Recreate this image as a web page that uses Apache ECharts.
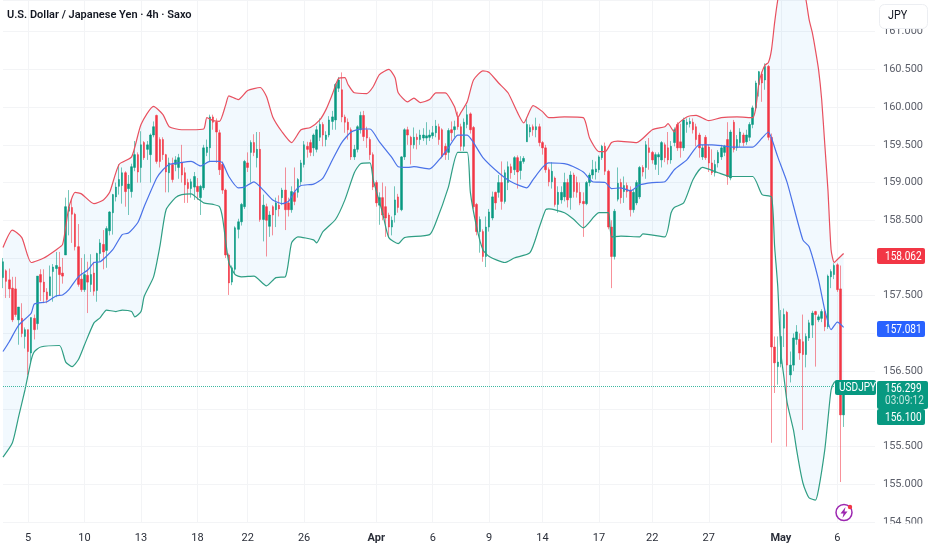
<!DOCTYPE html>
<html><head><meta charset="utf-8">
<style>html,body{margin:0;padding:0;background:#fff}#c{width:932px;height:550px}</style>
<script src="https://cdn.jsdelivr.net/npm/echarts@6/dist/echarts.min.js"></script>
</head><body><div id="c"></div>
<script>
const title = 'U.S. Dollar / Japanese Yen · 4h · Saxo';
const barCount = 279;
const dateIndex = [8,26,44,62,78,96,119,137,155,172,190,207,225,248,266];
const dateText = ['5','10','13','18','22','26','Apr','6','9','14','17','22','27','May','6'];
const currentPrice = 156.299;
// open, close, low, high
const candles = [
[157.74,157.95,157.6,158.0],[157.83,157.69,157.47,157.85],[157.71,157.59,157.47,157.86],[157.6,157.18,157.15,157.75],[157.59,157.25,157.22,157.75],
[157.18,157.35,156.85,157.35],[157.2,157.0,156.95,157.4],[156.96,157.05,156.8,157.08],[157.05,156.76,156.45,157.05],[156.74,157.21,156.62,157.21],
[157.2,157.05,156.92,157.25],[157.13,157.76,157.05,157.76],[157.78,157.68,157.43,157.85],[157.68,157.55,157.4,157.85],[157.55,157.45,157.4,157.6],
[157.5,157.75,157.5,157.9],[157.82,157.88,157.42,157.92],[157.86,157.9,157.48,158.08],[157.88,157.78,157.5,158.08],[157.8,157.76,157.66,158.0],
[158.04,158.68,158.04,158.8],[158.62,158.68,158.3,158.9],[158.67,158.58,158.2,158.78],[158.58,158.15,158.1,158.6],[158.15,157.65,157.62,158.45],
[157.72,157.58,157.55,158.0],[157.58,157.78,157.55,158.05],[157.77,157.68,157.27,157.95],[157.65,157.78,157.55,158.05],[157.8,157.56,157.5,157.95],
[157.57,158.06,157.42,158.07],[158.06,158.2,157.95,158.25],[158.18,158.08,157.85,158.37],[158.1,158.39,157.87,158.42],[158.36,158.61,158.3,158.62],
[158.6,158.84,158.31,158.85],[158.81,158.94,158.75,159.0],[158.95,159.04,158.84,159.24],[158.96,159.13,158.72,159.2],[159.13,158.88,158.68,159.15],
[158.92,158.98,158.57,159.1],[158.88,159.21,158.8,159.25],[159.2,159.37,159.15,159.55],[159.37,159.14,159.0,159.4],[159.2,159.5,159.0,159.68],
[159.53,159.33,159.3,159.55],[159.44,159.5,159.3,159.55],[159.37,159.63,159.0,159.65],[159.63,159.74,159.6,159.81],[159.89,159.28,159.25,159.9],
[159.57,159.28,159.2,159.6],[159.57,159.37,159.3,159.6],[159.37,159.14,158.87,159.38],[159.13,159.26,158.87,159.33],[159.24,159.04,159.0,159.33],
[159.24,159.3,159.15,159.35],[159.2,159.33,159.05,159.38],[159.26,159.1,159.0,159.5],[159.13,158.97,158.73,159.2],[159.0,158.92,158.73,159.05],
[158.92,159.01,158.8,159.05],[158.94,159.08,158.77,159.14],[158.95,158.88,158.77,159.06],[158.8,158.95,158.57,158.97],[158.93,159.46,158.9,159.5],
[159.4,159.47,159.35,159.57],[159.46,159.87,159.28,159.9],[159.87,159.8,159.7,159.9],[159.8,159.67,159.26,159.85],[159.66,159.17,159.1,159.7],
[159.24,158.9,158.85,159.28],[158.9,158.04,158.0,158.92],[158.04,157.67,157.51,158.06],[157.68,157.87,157.64,157.9],[157.85,158.4,157.8,158.42],
[158.38,158.48,158.26,158.52],[158.48,158.71,158.43,158.73],[158.68,159.28,158.65,159.3],[159.26,159.2,159.14,159.4],[159.4,159.53,159.0,159.56],
[159.53,159.4,159.35,159.64],[159.33,159.44,159.2,159.67],[159.44,158.51,158.48,159.67],[158.51,158.7,158.22,158.84],[158.68,158.5,158.02,158.72],
[158.42,158.57,158.28,158.62],[158.68,158.57,158.3,158.7],[158.64,158.73,158.41,158.8],[158.7,158.65,158.55,158.83],[158.8,158.9,158.7,158.93],
[158.9,158.64,158.37,159.2],[158.73,158.64,158.55,158.8],[158.64,158.88,158.6,158.95],[158.87,158.75,158.7,159.2],[158.87,159.04,158.8,159.06],
[159.01,159.26,158.97,159.3],[159.24,159.5,159.2,159.55],[159.48,159.44,159.33,159.54],[159.53,159.4,159.35,159.57],[159.46,159.63,159.35,159.65],
[159.44,159.7,159.4,159.75],[159.6,159.77,159.55,159.85],[159.77,159.63,159.48,159.8],[159.57,159.63,159.48,159.68],[159.63,159.83,159.6,159.88],
[159.81,159.87,159.7,159.95],[159.83,160.3,159.7,160.32],[160.25,160.36,160.2,160.4],[160.23,159.87,159.8,160.46],[159.87,159.8,159.66,159.9],
[159.8,159.7,159.57,159.85],[159.7,159.34,159.3,159.73],[159.34,159.44,159.3,159.5],[159.44,159.74,159.4,159.76],[159.7,159.89,159.65,159.94],
[159.89,159.61,159.55,159.95],[159.7,159.59,159.46,159.74],[159.57,159.37,159.3,159.6],[159.37,158.94,158.9,159.4],[159.0,158.73,158.68,159.03],
[158.7,158.8,158.44,158.87],[158.8,158.57,158.5,159.0],[158.68,158.53,158.28,158.95],[158.57,158.41,158.28,158.6],[158.41,158.5,158.3,158.55],
[158.57,158.77,158.47,158.95],[158.81,158.67,158.6,158.85],[158.64,159.34,158.62,159.35],[159.34,159.7,159.3,159.72],[159.7,159.63,159.5,159.74],
[159.6,159.5,159.24,159.62],[159.5,159.6,159.45,159.73],[159.6,159.57,159.44,159.65],[159.57,159.63,159.5,159.7],[159.59,159.63,159.55,159.72],
[159.59,159.62,159.5,159.8],[159.6,159.63,159.55,159.7],[159.62,159.66,159.58,159.75],[159.66,159.75,159.6,159.83],[159.74,159.57,159.5,159.78],
[159.7,159.34,159.32,159.72],[159.48,159.37,159.3,159.52],[159.4,159.69,159.3,159.72],[159.7,159.66,159.55,159.81],[159.7,159.74,159.6,159.82],
[159.86,159.74,159.7,159.94],[159.74,159.48,159.42,159.78],[159.48,159.8,159.42,159.85],[159.77,159.9,159.72,160.03],[159.91,159.7,159.65,159.93],
[159.73,158.68,158.65,159.75],[158.71,158.35,158.3,158.73],[158.35,158.51,158.07,158.55],[158.35,158.02,157.95,158.38],[158.02,158.41,157.88,158.55],
[158.41,158.61,158.35,158.65],[158.53,158.81,158.5,158.88],[158.87,158.73,158.64,158.88],[158.87,159.0,158.8,159.1],[159.0,158.75,158.64,159.28],
[158.75,159.13,158.72,159.17],[159.0,159.21,158.9,159.28],[159.21,159.13,159.05,159.25],[159.17,159.33,159.1,159.35],[159.33,159.14,158.92,159.36],
[159.16,159.28,159.04,159.35],[159.28,159.32,159.25,159.35],
[159.54,159.77,159.54,159.86],[159.67,159.73,159.6,159.77],[159.74,159.7,159.62,159.77],[159.7,159.74,159.6,159.86],[159.74,159.53,159.48,159.78],
[159.53,159.46,159.37,159.55],[159.46,159.17,159.13,159.5],[159.17,159.01,158.95,159.2],[159.01,159.15,158.92,159.27],[159.06,158.71,158.68,159.08],
[158.71,158.87,158.6,158.95],[158.77,158.87,158.72,158.95],[158.81,159.0,158.75,159.13],[159.0,158.77,158.67,159.05],[158.8,159.1,158.64,159.15],
[159.1,158.88,158.8,159.13],[159.0,158.87,158.8,159.08],[158.87,158.73,158.7,159.0],[158.75,158.72,158.28,158.87],[158.72,159.0,158.7,159.02],
[159.0,159.1,158.95,159.13],[159.1,159.17,159.05,159.3],[159.14,159.18,159.04,159.28],[159.17,159.34,159.13,159.36],[159.33,159.48,159.3,159.5],
[159.48,159.15,159.1,159.53],[159.15,158.41,158.38,159.17],[158.41,158.02,157.6,158.5],[158.02,158.62,157.98,158.65],[158.78,158.99,158.75,159.2],
[159.0,158.8,158.72,159.05],
[158.88,158.96,158.73,159.08],[158.96,158.88,158.8,159.0],[158.9,158.64,158.55,158.95],[158.64,158.87,158.6,158.9],[158.73,159.0,158.7,159.03],
[158.81,159.2,158.78,159.22],[159.2,159.14,159.08,159.23],[159.2,159.5,159.05,159.55],[159.46,159.4,159.17,159.59],[159.4,159.3,159.25,159.42],
[159.24,159.37,159.17,159.4],[159.34,159.37,159.1,159.4],[159.3,159.53,159.2,159.55],[159.5,159.33,159.27,159.53],
[159.46,159.3,159.24,159.67],[159.3,159.48,159.25,159.55],[159.53,159.7,159.48,159.73],[159.77,159.46,159.42,159.8],[159.54,159.46,159.33,159.78],
[159.46,159.83,159.42,159.86],[159.77,159.8,159.66,159.85],[159.78,159.81,159.73,159.86],[159.8,159.7,159.65,159.85],[159.74,159.57,159.48,159.78],
[159.63,159.46,159.33,159.66],[159.34,159.46,159.3,159.5],[159.6,159.33,159.3,159.63],[159.47,159.26,159.14,159.5],[159.26,159.13,159.1,159.44],
[159.13,159.24,159.08,159.3],[159.26,159.4,159.2,159.43],[159.34,159.46,159.3,159.5],[159.4,159.48,159.35,159.5],[159.57,159.08,158.97,159.8],
[159.06,159.67,159.03,159.7],[159.8,159.44,159.4,159.83],[159.46,159.57,159.42,159.63],[159.53,159.67,159.47,159.72],[159.63,159.53,159.48,159.66],
[159.54,159.63,159.5,159.7],[159.6,159.77,159.55,159.8],[159.77,159.99,159.72,160.02],[159.99,160.32,159.95,160.35],[160.3,160.47,160.14,160.48],
[160.44,160.32,160.07,160.47],[160.36,160.54,160.23,160.58],[160.54,159.6,159.56,160.56],[159.6,156.82,155.55,159.65],
[156.82,156.61,156.21,156.96],[156.56,156.62,156.32,156.96],[156.6,156.96,156.55,157.31],[157.07,157.25,156.82,157.33],[157.28,156.58,155.5,157.3],
[156.45,156.58,156.35,156.76],[156.58,156.94,156.5,157.0],[156.92,157.02,156.85,157.11],[156.92,156.74,156.65,157.0],[156.89,156.72,155.72,157.25],
[156.72,156.96,156.55,157.0],[156.94,157.14,156.9,157.18],[157.11,157.27,156.94,157.3],[157.29,157.25,156.56,157.3],[157.18,157.22,157.15,157.25],
[157.2,157.29,157.15,157.32],[157.29,157.09,157.03,157.32],[157.09,157.76,157.06,157.78],[157.75,157.82,157.6,157.85],[157.78,157.9,157.72,157.93],
[157.91,157.58,157.55,157.93],[157.59,155.92,155.03,157.9],[155.92,156.299,155.76,156.35]
];
// band lines: [bar index, price]
const upperBand = [[0,158.14],[3,158.37],[6,158.27],[9,157.94],[13,158.0],[17,158.11],[19,158.18],[21,158.67],[23,158.87],[25,158.85],[29,158.72],[32,158.77],[34,158.87],[37,159.24],[41,159.34],[44,159.77],[48,160.01],[51,159.9],[53,159.74],[57,159.7],[60,159.7],[64,159.71],[65,159.86],[67,159.82],[69,159.81],[71,160.03],[72,160.15],[75,160.1],[78,160.22],[82,160.26],[84,160.14],[86,159.87],[89,159.67],[92,159.53],[95,159.7],[98,159.73],[101,159.83],[103,159.97],[105,160.17],[107,160.38],[109,160.39],[110,160.3],[112,160.19],[116,160.18],[118,160.27],[120,160.43],[123,160.5],[125,160.39],[126,160.19],[129,160.07],[131,160.12],[133,160.06],[136,160.1],[138,160.19],[141,160.19],[144,160.0],[145,159.86],[146,159.93],[148,160.07],[150,160.36],[153,160.48],[155,160.46],[158,160.32],[161,160.19],[164,159.93],[166,159.79],[169,160.02],[172,159.94],[174,159.86],[179,159.87],[185,159.86],[187,159.59],[190,159.41],[192,159.41],[194,159.53],[196,159.55],[202,159.53],[207,159.7],[211,159.74],[212,159.78],[214,159.67],[215,159.77],[218,159.87],[221,159.89],[225,159.82],[229,159.86],[234,159.87],[239,159.86],[240,159.99],[241,160.32],[242,160.47],[243,160.56],[244,160.59],[245,160.76],[246,161.12],[247,161.42],[248,161.62],[249,161.75],[250,161.85],[251,161.89],[252,161.89],[253,161.82],[254,161.69],[255,161.58],[256,161.42],[257,161.16],[258,160.99],[259,160.76],[260,160.5],[261,160.1],[262,159.5],[263,158.9],[264,158.11],[265,157.94],[266,157.98],[267,158.02],[268,158.06]];
const midBand = [[0,156.76],[2,156.89],[5,157.11],[9,157.27],[10,157.39],[14,157.42],[17,157.5],[19,157.51],[21,157.58],[24,157.75],[27,157.84],[29,157.94],[31,157.95],[35,158.11],[38,158.31],[40,158.33],[43,158.47],[45,158.68],[49,159.06],[51,159.17],[53,159.24],[56,159.26],[60,159.28],[63,159.22],[66,159.28],[69,159.28],[70,159.26],[72,159.08],[75,158.93],[77,158.94],[80,159.01],[83,158.9],[86,158.77],[89,158.72],[91,158.75],[93,158.88],[95,158.96],[99,158.98],[102,159.06],[105,159.3],[108,159.53],[111,159.67],[114,159.71],[117,159.71],[120,159.54],[124,159.33],[126,159.21],[129,159.2],[131,159.21],[136,159.18],[139,159.3],[142,159.46],[145,159.63],[148,159.63],[150,159.53],[153,159.33],[158,159.13],[162,159.01],[167,158.93],[169,159.04],[172,159.2],[174,159.26],[180,159.24],[185,159.14],[188,159.01],[192,159.0],[194,158.92],[197,158.93],[200,158.89],[203,158.97],[207,159.0],[211,159.01],[214,159.17],[218,159.3],[222,159.5],[226,159.5],[229,159.49],[233,159.47],[239,159.47],[242,159.59],[244,159.67],[245,159.59],[247,159.34],[250,159.0],[255,158.24],[257,158.15],[260,157.71],[262,157.31],[264,157.05],[266,157.15],[268,157.08]];
const lowerBand = [[0,155.36],[3,155.55],[5,155.9],[7,156.25],[9,156.65],[10,156.76],[12,156.82],[18,156.84],[20,156.62],[22,156.56],[24,156.65],[26,156.85],[29,157.14],[31,157.21],[33,157.31],[36,157.29],[38,157.31],[41,157.29],[42,157.22],[44,157.29],[45,157.49],[48,157.75],[50,158.15],[52,158.64],[55,158.8],[57,158.84],[60,158.85],[62,158.79],[64,158.73],[67,158.71],[69,158.68],[70,158.53],[72,157.94],[74,157.78],[76,157.75],[80,157.76],[84,157.63],[87,157.74],[90,157.75],[92,158.2],[94,158.28],[99,158.24],[100,158.2],[102,158.35],[106,158.51],[109,158.77],[112,159.13],[114,159.25],[117,159.26],[118,159.04],[121,158.6],[123,158.27],[126,158.19],[128,158.27],[136,158.31],[138,158.47],[142,158.94],[145,159.4],[148,159.4],[149,158.87],[151,158.41],[153,158.11],[155,158.02],[160,157.94],[163,158.0],[168,158.07],[171,158.41],[173,158.64],[174,158.65],[179,158.6],[182,158.51],[185,158.4],[190,158.6],[193,158.6],[194,158.28],[197,158.29],[203,158.28],[204,158.32],[211,158.28],[213,158.6],[214,158.67],[217,158.73],[220,159.04],[223,159.2],[228,159.13],[232,159.08],[239,159.08],[242,158.84],[245,158.81],[246,158.15],[247,157.62],[248,156.74],[249,156.41],[250,156.08],[252,155.72],[253,155.46],[254,155.22],[255,155.02],[256,154.9],[257,154.82],[259,154.79],[260,154.93],[262,155.46],[263,155.86],[264,156.25],[265,156.35],[266,156.37],[268,156.37]];

const FONT = 'Roboto, sans-serif';
const UP='#089981', DOWN='#f23645', GRID='#f3f4f6';
const categories = Array.from({length:barCount},(_,i)=>{const k=dateIndex.indexOf(i);return k<0?'':dateText[k];});
const chart = echarts.init(document.getElementById('c'),null,{renderer:'canvas'});
function txt(x,y,t,c,font,sx,z){
  return {type:'text',z:z||121,x:x,y:y,scaleX:sx||0.84,style:{x:0,y:0,text:t,fill:c||'#fff',font:font||('12px '+FONT),textAlign:'left',textVerticalAlign:'middle'}};
}
function tag(x,y,w,h,fill,lines){
  return {type:'group',z:120,children:[
    {type:'rect',z:120,shape:{x:x,y:y,width:w,height:h,r:2},style:{fill:fill}},
    ...lines.map(l=>txt(l.x,l.y,l.t,l.c))
  ]};
}
chart.setOption({
  animation:false,
  backgroundColor:'#fff',
  textStyle:{fontFamily:FONT},
  grid:{left:0,right:57,top:0,bottom:28,containLabel:false},
  xAxis:{type:'category',data:categories,boundaryGap:false,
    axisLine:{show:false},axisTick:{show:false},
    axisLabel:{interval:0,margin:11,hideOverlap:false,color:'#2a2e39',fontSize:11,fontFamily:FONT,
      formatter:v=>/[A-Za-z]/.test(v)?'{b|'+v+'}':v,
      rich:{b:{fontWeight:'bold',fontSize:11,color:'#2a2e39',fontFamily:FONT}}},
    splitLine:{show:true,interval:(i,v)=>v!=='',lineStyle:{color:GRID,width:1}}},
  yAxis:{type:'value',position:'right',min:154.5,max:161.42,interval:0.5,scale:true,
    axisLine:{show:false},axisTick:{show:false},
    axisLabel:{margin:8,color:'#5d606b',fontSize:11,fontFamily:FONT,showMaxLabel:false,formatter:v=>v.toFixed(3)},
    splitLine:{show:true,lineStyle:{color:GRID,width:1}}},
  series:[
    {type:'custom',name:'fill',silent:true,clip:true,z:1,data:[[0,158]],
     renderItem:(p,api)=>{
       const pts=upperBand.map(d=>api.coord(d)).concat(lowerBand.slice().reverse().map(d=>api.coord(d)));
       return {type:'polygon',shape:{points:pts},style:{fill:'rgba(33,150,243,0.06)'}};
     }},
    {type:'candlestick',name:'wick',silent:true,z:2,barWidth:1,data:candles,
     itemStyle:{color:'rgba(8,153,129,0.55)',color0:'rgba(242,54,69,0.55)',borderColor:'rgba(8,153,129,0.55)',borderColor0:'rgba(242,54,69,0.55)',borderWidth:1}},
    {type:'candlestick',name:'body',silent:true,z:3,barWidth:2,
     data:candles.map(c=>[c[0],c[1],Math.min(c[0],c[1]),Math.max(c[0],c[1])]),
     itemStyle:{color:UP,color0:DOWN,borderColor:UP,borderColor0:DOWN,borderWidth:0.5},
     markLine:{silent:true,symbol:'none',animation:false,label:{show:false},
       itemStyle:{color:'#3fb8a2'},
       lineStyle:{type:'dotted',color:'#3fb8a2',width:1,opacity:1},
       data:[{yAxis:currentPrice,lineStyle:{type:'dotted',color:'#3fb8a2',width:1,opacity:1}}]}},
    {type:'line',name:'upper',data:upperBand,showSymbol:false,smooth:0.2,z:4,silent:true,lineStyle:{color:'#e8505f',width:1.2}},
    {type:'line',name:'middle',data:midBand,showSymbol:false,smooth:0.2,z:4,silent:true,lineStyle:{color:'#4a72e8',width:1.2}},
    {type:'line',name:'lower',data:lowerBand,showSymbol:false,smooth:0.2,z:4,silent:true,lineStyle:{color:'#2f9e84',width:1.2}}
  ],
  graphic:{elements:[
    {type:'rect',z:100,shape:{x:875,y:523.5,width:57,height:27},style:{fill:'#fff'}},
    {type:'rect',z:100,shape:{x:875,y:0,width:57,height:29},style:{fill:'#fff'}},
    {type:'rect',z:101,shape:{x:879.5,y:4.5,width:48,height:24,r:5},style:{fill:'#fff',stroke:'#eceef2',lineWidth:1}},
    txt(888,16,'JPY','#131722','12px '+FONT,0.9,102),
    txt(7,15,title,'#131722','600 11px '+FONT,1,102),
    tag(877,248,48,16,'#f23645',[{x:885,y:256.5,t:'158.062'}]),
    tag(877,321,48,16,'#2962ff',[{x:885,y:329.5,t:'157.081'}]),
    tag(877,409,48,16,UP,[{x:885,y:417.5,t:'156.100'}]),
    tag(877,381,51,28,UP,[{x:885,y:388.5,t:'156.299'},{x:885,y:400.5,t:'03:09:12',c:'#bfe6de'}]),
    tag(835,380,41,15,UP,[{x:839,y:388,t:'USDJPY'}]),
    {type:'circle',z:110,shape:{cx:844,cy:512.5,r:8},style:{fill:'#fff',stroke:'#9c27b0',lineWidth:1.5}},
    {type:'polygon',z:111,shape:{points:[[845.5,507],[840.5,513.5],[843.5,513.5],[842.5,518],[847.5,511.5],[844.5,511.5]]},style:{fill:'#9c27b0'}},
    {type:'circle',z:112,shape:{cx:850,cy:507,r:2.2},style:{fill:'#f23645'}}
  ]}
});
</script></body></html>
